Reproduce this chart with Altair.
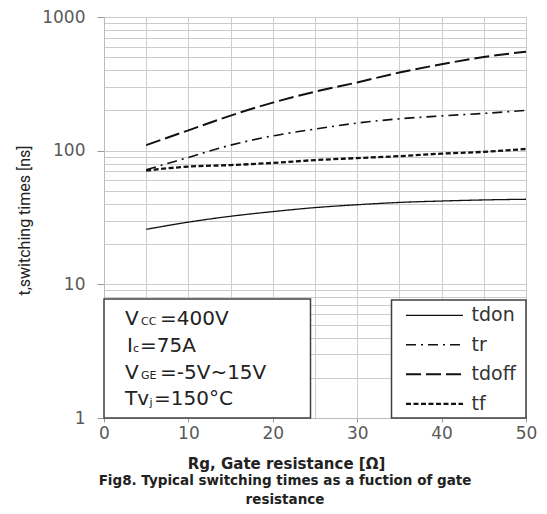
import altair as alt
import pandas as pd

# ---- data ----
rg = [5, 10, 15, 20, 25, 30, 35, 40, 45, 50]
series = ["tdon", "tr", "tdoff", "tf"]
tdon = [25.8, 29.2, 32.3, 35.0, 37.5, 39.4, 41.0, 42.0, 42.8, 43.3]
tr = [72, 89, 110, 129, 145, 161, 173, 182, 190, 200]
tdoff = [110, 142, 183, 229, 276, 324, 384, 443, 502, 550]
tf = [71, 76, 78, 81, 85, 88, 91, 95, 98, 103]

x_grid = [0, 5, 10, 15, 20, 25, 30, 35, 40, 45, 50]
y_grid = [m * d for d in [1, 10, 100] for m in range(1, 10)] + [1000]

x_title = "Rg, Gate resistance [Ω]"
y_title = "t,switching times [ns]"
caption = ["Fig8. Typical switching times as a fuction of gate", "resistance"]
cond_lines = [
    ("V", "CC", "=400V"),
    ("I", "c", "=75A"),
    ("V", "GE", "=-5V~15V"),
    ("Tv", "j", "=150°C"),
]

dashes = [[1, 0], [10, 5, 2, 5], [15, 5], [5, 2.5]]
widths = [1.3, 2.3, 2.3, 2.3]

rows = []
for name, vals in zip(series, [tdon, tr, tdoff, tf]):
    for x, v in zip(rg, vals):
        rows.append({"rg": x, "t": v, "series": name})
df = pd.DataFrame(rows)

dash_scale = alt.Scale(domain=series, range=dashes)
width_scale = alt.Scale(domain=series, range=widths)

FONT = "DejaVu Sans"
major_test = "indexof([1,10,100,1000], datum.value) >= 0"

lines = alt.Chart(df).mark_line(color="#111111", interpolate="monotone").encode(
    x=alt.X(
        "rg:Q",
        scale=alt.Scale(domain=[0, 50], nice=False),
        axis=alt.Axis(
            values=x_grid,
            labelExpr="datum.value % 10 == 0 ? datum.label : ''",
            tickOpacity={"condition": {"test": "datum.value % 10 == 0", "value": 1}, "value": 0},
            tickSize=4,
            labelPadding=3,
            labelFlush=False,
            labelOverlap=False,
            labelFont=FONT,
            labelFontSize=17,
            labelColor="#595959",
            title=x_title,
            titleFont=FONT,
            titleFontSize=15,
            titleFontWeight="bold",
            titleColor="#222222",
            titleX=182,
            titleY=45,
            titleAlign="center",
            titleBaseline="middle",
            gridColor="#cccccc",
            domainColor="#bbbbbb",
            tickColor="#999999",
        ),
    ),
    y=alt.Y(
        "t:Q",
        scale=alt.Scale(type="log", domain=[1, 1000], nice=False),
        axis=alt.Axis(
            values=y_grid,
            format="d",
            labelExpr=major_test + " ? datum.label : ''",
            tickOpacity={"condition": {"test": major_test, "value": 1}, "value": 0},
            tickSize=7,
            labelPadding=12,
            labelFlush=False,
            labelOverlap=False,
            labelFont=FONT,
            labelFontSize=17,
            labelColor="#595959",
            title=y_title,
            titleFont="Liberation Sans Narrow, Roboto",
            titleFontSize=16,
            titleFontWeight="normal",
            titleColor="#222222",
            titleAngle=-90,
            titleX=-80,
            titleY=203,
            titleAlign="center",
            titleBaseline="middle",
            gridColor="#cccccc",
            domainColor="#bbbbbb",
            tickColor="#999999",
        ),
    ),
    strokeDash=alt.StrokeDash("series:N", scale=dash_scale, legend=None),
    strokeWidth=alt.StrokeWidth("series:N", scale=width_scale, legend=None),
    detail="series:N",
)

one = pd.DataFrame({"k": [0]})
layers = [lines]

# conditions box
layers.append(
    alt.Chart(one).mark_rect(fill="white", stroke="#404040", strokeWidth=1.5).encode(
        x=alt.value(0), x2=alt.value(206.5), y=alt.value(282), y2=alt.value(401)
    )
)
x_main = [21.0, 23.0, 21.0, 21.0]
x_sub = [37.0, 29.0, 37.0, 45.5]
x_rest = [56.0, 36.0, 56.0, 50.0]
base_y = [308.0, 334.7, 362.0, 388.0]
for i, (a, b, c) in enumerate(cond_lines):
    d = pd.DataFrame({"a": [a], "b": [b], "c": [c]})
    for field, xv, size, dy in [("a", x_main[i], 20, 0), ("b", x_sub[i], 11, 1 if b == "j" else 0), ("c", x_rest[i], 20, 0)]:
        layers.append(
            alt.Chart(d).mark_text(
                font=FONT, fontSize=size, color="#222222", align="left", baseline="alphabetic", dy=dy
            ).encode(x=alt.value(xv), y=alt.value(base_y[i]), text=f"{field}:N")
        )

# legend box
layers.append(
    alt.Chart(one).mark_rect(fill="white", stroke="#404040", strokeWidth=1.5).encode(
        x=alt.value(287.5), x2=alt.value(422), y=alt.value(283), y2=alt.value(401)
    )
)
for i, s in enumerate(series):
    d = pd.DataFrame({"series": [s]})
    yv = 298.3 + i * 29.5
    layers.append(
        alt.Chart(d).mark_rule(color="#111111").encode(
            x=alt.value(302), x2=alt.value(359), y=alt.value(yv),
            strokeDash=alt.StrokeDash("series:N", scale=dash_scale, legend=None),
            strokeWidth=alt.StrokeWidth("series:N", scale=width_scale, legend=None),
        )
    )
    layers.append(
        alt.Chart(d).mark_text(font=FONT, fontSize=19, color="#333333", align="left", baseline="middle").encode(
            x=alt.value(367.5), y=alt.value(yv), text="series:N"
        )
    )

# caption
for i, line in enumerate(caption):
    d = pd.DataFrame({"c": [line]})
    layers.append(
        alt.Chart(d).mark_text(font=FONT, fontSize=13.5, fontWeight="bold", color="#222222",
                               align="center", baseline="middle").encode(
            x=alt.value(181), y=alt.value(464 + i * 19), text="c:N"
        )
    )

chart = alt.layer(*layers).properties(
    width=422,
    height=401,
    autosize=alt.AutoSizeParams(type="none"),
    padding={"left": 96, "top": 9, "right": 13, "bottom": 94},
).configure_view(stroke=None).configure(background="white")

chart.save("out.html", embed_options={"renderer": "svg", "actions": False})
